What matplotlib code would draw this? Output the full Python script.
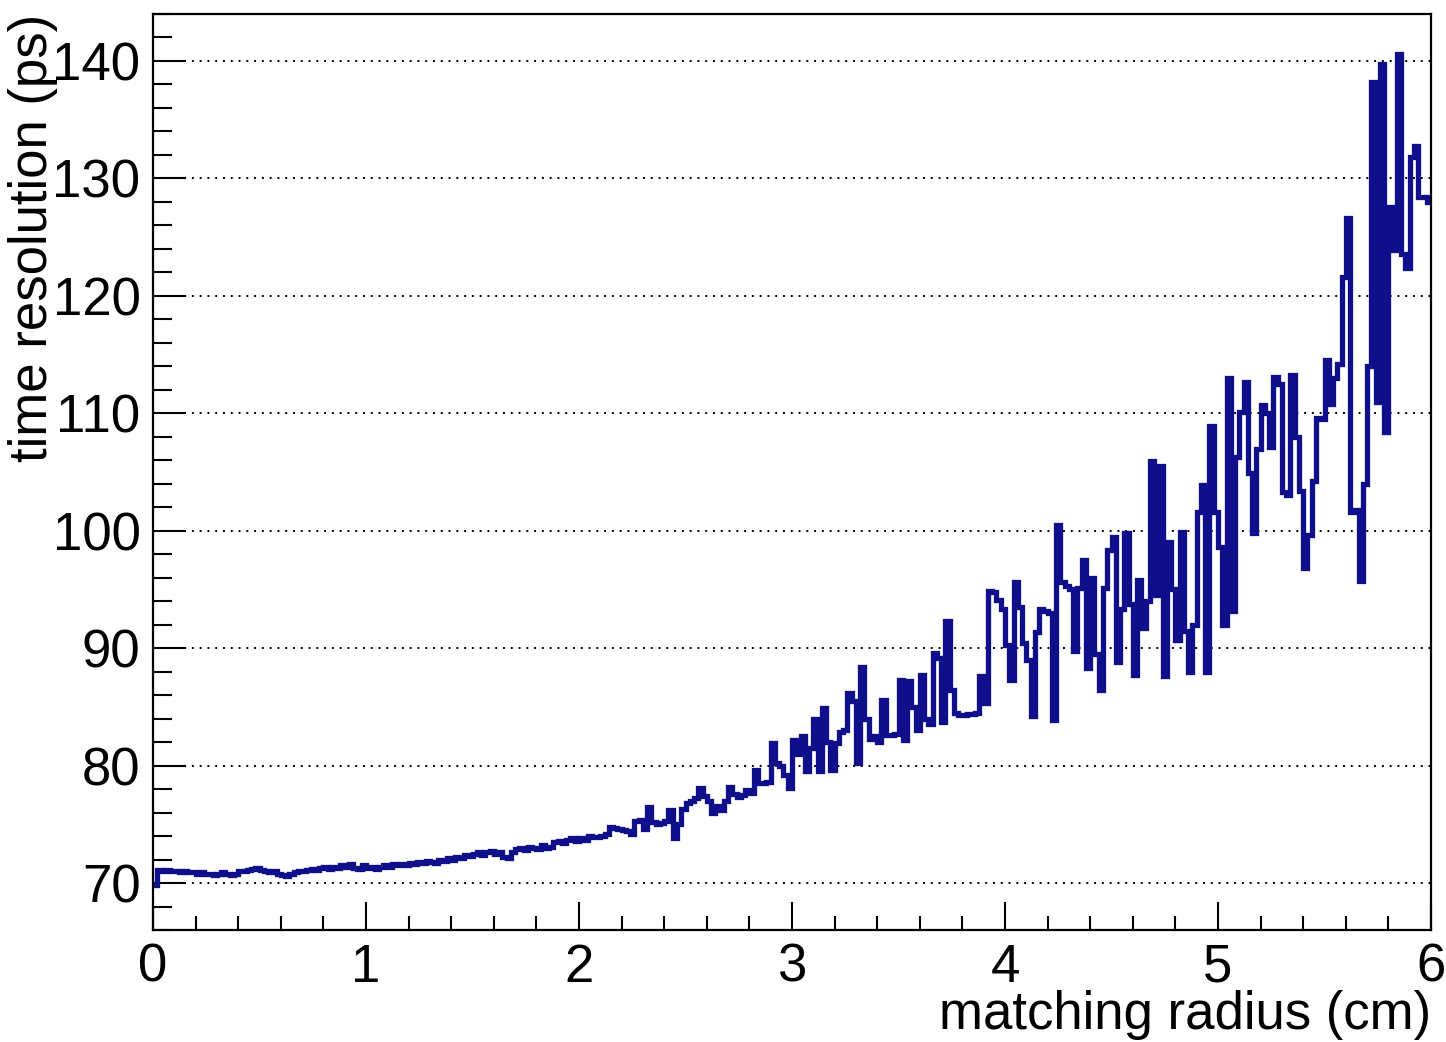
import matplotlib.pyplot as plt
import numpy as np
from matplotlib.ticker import MultipleLocator

plt.rcParams['font.family'] = ['Liberation Sans', 'DejaVu Sans']

# histogram: 300 bins between 0 and 6 cm
x_min, x_max, n_bins = 0.0, 6.0, 300

res_0_1 = [69.8, 71.1, 71.0, 71.1, 71.0, 71.0, 70.9, 71.0, 70.9, 70.9,
           70.8, 70.9, 70.8, 70.8, 70.7, 70.8, 70.9, 70.8, 70.7, 70.8,
           71.0, 71.0, 71.1, 71.2, 71.3, 71.1, 71.0, 70.9, 71.0, 70.8,
           70.7, 70.6, 70.8, 70.9, 71.0, 71.0, 71.1, 71.2, 71.1, 71.3,
           71.4, 71.2, 71.4, 71.3, 71.5, 71.4, 71.6, 71.3, 71.2, 71.5]
res_1_2 = [71.3, 71.4, 71.2, 71.4, 71.5, 71.4, 71.6, 71.5, 71.6, 71.5,
           71.7, 71.6, 71.8, 71.7, 71.9, 71.8, 71.7, 72.0, 71.9, 72.1,
           72.0, 72.2, 72.1, 72.4, 72.3, 72.5, 72.6, 72.4, 72.6, 72.7,
           72.5, 72.6, 72.2, 72.1, 72.6, 72.9, 73.0, 72.8, 73.1, 73.0,
           72.9, 73.2, 73.0, 73.1, 73.5, 73.6, 73.4, 73.7, 73.8, 73.6]
res_2_3 = [73.8, 73.7, 74.0, 73.9, 73.9, 74.0, 74.2, 74.8, 74.7, 74.6,
           74.5, 74.4, 74.2, 75.3, 75.4, 74.6, 76.5, 75.2, 75.0, 75.1,
           75.3, 76.2, 73.8, 75.0, 76.3, 76.8, 77.0, 77.2, 78.1, 77.4,
           77.0, 76.0, 76.6, 76.2, 77.0, 78.2, 77.6, 77.3, 77.5, 77.9,
           77.7, 79.6, 78.5, 78.5, 78.6, 81.9, 80.2, 80.0, 79.2, 78.1]
res_3_4 = [82.2, 81.0, 82.5, 79.5, 81.5, 84.0, 79.5, 84.9, 82.0, 79.6,
           81.9, 82.9, 83.0, 86.2, 85.5, 80.2, 88.4, 84.0, 82.3, 82.5,
           82.0, 85.6, 82.6, 82.6, 82.7, 87.3, 82.2, 87.2, 85.0, 83.0,
           87.7, 84.0, 83.5, 89.6, 89.2, 83.7, 92.3, 86.4, 84.5, 84.3,
           84.3, 84.4, 84.4, 84.5, 87.6, 85.3, 94.9, 94.8, 94.1, 93.3]
res_4_5 = [90.3, 87.3, 95.6, 93.5, 90.4, 89.0, 84.2, 91.4, 93.3, 93.2,
           93.0, 83.9, 100.5, 95.6, 95.3, 95.0, 89.8, 95.1, 97.5, 88.3,
           96.0, 89.5, 86.4, 95.1, 98.4, 99.5, 88.8, 93.3, 99.8, 93.8,
           87.7, 95.8, 91.7, 94.0, 105.9, 94.5, 105.5, 87.6, 99.0, 95.0,
           90.7, 99.9, 91.5, 88.0, 92.0, 101.6, 103.9, 88.0, 108.9, 101.6]
res_5_6 = [98.6, 92.0, 113.0, 93.2, 106.3, 110.1, 112.7, 104.9, 99.8, 107.0,
           110.7, 110.0, 107.1, 113.1, 112.5, 103.3, 103.0, 113.3, 108.0, 103.4,
           96.8, 99.6, 104.2, 109.6, 109.5, 114.5, 110.8, 113.0, 114.2, 121.6,
           126.6, 101.6, 101.8, 95.7, 104.0, 114.0, 138.2, 111.0, 139.7, 108.4,
           127.6, 123.9, 140.6, 123.6, 122.4, 131.8, 132.8, 128.4, 128.4, 128.0]

time_res = res_0_1 + res_1_2 + res_2_3 + res_3_4 + res_4_5 + res_5_6
edges = np.linspace(x_min, x_max, n_bins + 1)

fig = plt.figure(figsize=(14.46, 10.42), dpi=100)
ax = fig.add_axes([153 / 1446, 1 - 930 / 1042, (1431 - 153) / 1446, (930 - 14) / 1042])

ax.stairs(time_res, edges, color='#0f0f8c', linewidth=3.8, baseline=None)

ax.set_xlim(0, 6)
ax.set_ylim(66, 144)

ax.xaxis.set_major_locator(MultipleLocator(1))
ax.xaxis.set_minor_locator(MultipleLocator(0.2))
ax.yaxis.set_major_locator(MultipleLocator(10))
ax.yaxis.set_minor_locator(MultipleLocator(2))

ax.tick_params(axis='x', which='major', direction='in', length=20, width=1.5,
               labelsize=38, pad=9)
ax.tick_params(axis='x', which='minor', direction='in', length=10, width=1.5)
ax.tick_params(axis='y', which='major', direction='in', length=24, width=1.5,
               labelsize=38, pad=9)
ax.tick_params(axis='y', which='minor', direction='in', length=14, width=1.5)

for s in ax.spines.values():
    s.set_linewidth(1.6)

ax.yaxis.grid(True, which='major', linestyle=(0, (1, 3)), color='black', linewidth=1.4)
ax.set_axisbelow(True)

fig.text(1431 / 1446, 1 - 1029 / 1042, 'matching radius (cm)', fontsize=38,
         ha='right', va='baseline')
fig.text(58 / 1446, 1 - 14 / 1042, 'time resolution (ps)', fontsize=38,
         rotation=90, ha='right', va='top')

fig.savefig('out.png', dpi=100)
